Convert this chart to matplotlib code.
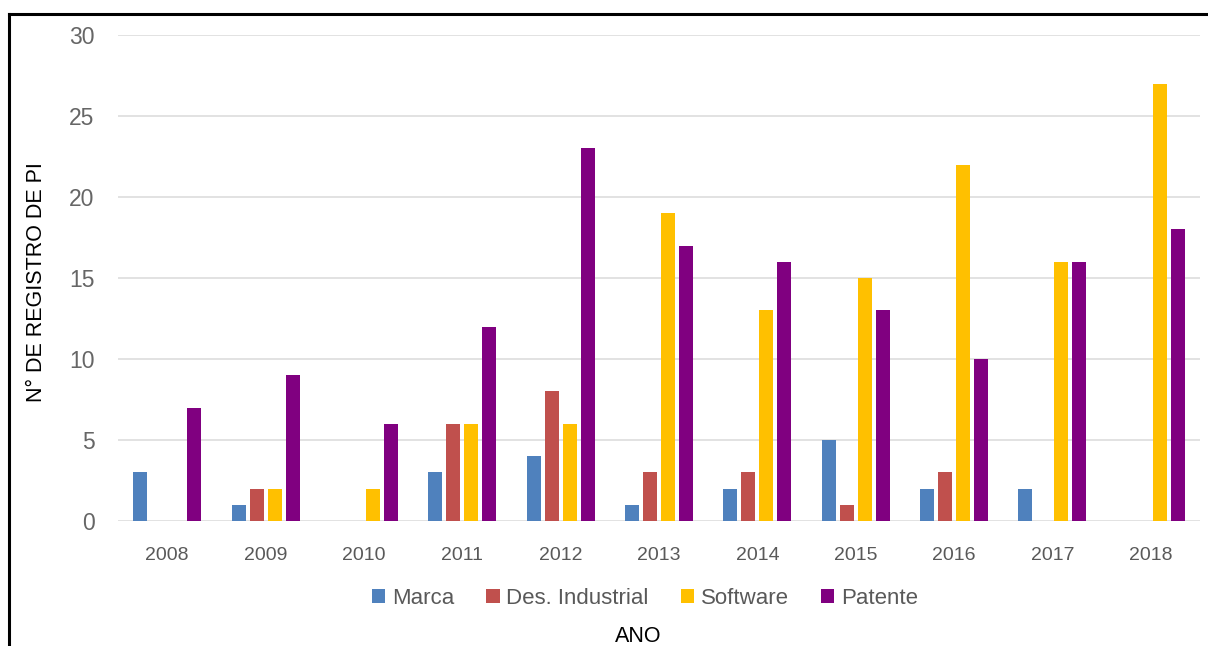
import numpy as np
import matplotlib
matplotlib.use("Agg")
import matplotlib.pyplot as plt
from matplotlib.lines import Line2D
from matplotlib.patches import Patch

plt.rcParams['font.family'] = ['Liberation Sans', 'DejaVu Sans']

years = ["2008", "2009", "2010", "2011", "2012", "2013", "2014", "2015", "2016", "2017", "2018"]
marca = [3, 1, 0, 3, 4, 1, 2, 5, 2, 2, 0]
des_industrial = [0, 2, 0, 6, 8, 3, 3, 1, 3, 0, 0]
software = [0, 2, 2, 6, 6, 19, 13, 15, 22, 16, 27]
patente = [7, 9, 6, 12, 23, 17, 16, 13, 10, 16, 18]

series = [
    ("Marca", marca, "#4F81BD"),
    ("Des. Industrial", des_industrial, "#C0504D"),
    ("Software", software, "#FFC000"),
    ("Patente", patente, "#800080"),
]

fig = plt.figure(figsize=(12.08, 6.46), dpi=100)
ax = fig.add_axes([118 / 1208, 1 - 521 / 646, (1200 - 118) / 1208, (521 - 35) / 646])

x = np.arange(len(years))
step = 0.183
width = 0.142
for i, (name, vals, color) in enumerate(series):
    ax.bar(x + (i - 1.5) * step, vals, width=width, color=color, label=name, zorder=3)

ax.set_xlim(-0.5, len(years) - 0.5)
ax.set_ylim(0, 30)
ax.set_yticks([0, 5, 10, 15, 20, 25, 30])
ax.set_xticks(x)
ax.set_xticklabels(years)
ax.yaxis.grid(True, color="#e2e2e2", linewidth=1.4, zorder=0)
ax.set_axisbelow(True)
for s in ax.spines.values():
    s.set_visible(False)
ax.tick_params(axis="x", length=0, pad=19, labelsize=14, labelcolor="#595959")
ax.tick_params(axis="y", length=0, pad=17, labelsize=16.5, labelcolor="#666666")

fig.text(37 / 1208, 1 - 282 / 646, "N° DE REGISTRO DE PI", rotation=90,
         ha="center", va="center", fontsize=15.5, color="black")
fig.text(638 / 1208, 1 - 636 / 646, "ANO", ha="center", va="center",
         fontsize=15.5, color="black")

handles = [Patch(facecolor=c, edgecolor="none") for _, _, c in series]
labels = [n for n, _, _ in series]
fig.legend(handles, labels, loc="center", bbox_to_anchor=(645 / 1208, 1 - 598 / 646),
           ncol=4, frameon=False, fontsize=16, labelcolor="#595959",
           handlelength=0.6, handleheight=0.6, handletextpad=0.3, columnspacing=1.45)

# frame lines on the top and left of the figure
fig.add_artist(Line2D([9 / 1208, 9 / 1208], [0, 1 - 14 / 646], transform=fig.transFigure,
                      color="black", linewidth=2.2))
fig.add_artist(Line2D([9 / 1208, 1], [1 - 14 / 646, 1 - 14 / 646], transform=fig.transFigure,
                      color="black", linewidth=2.2))

fig.savefig("out.png", dpi=100, facecolor="white")
